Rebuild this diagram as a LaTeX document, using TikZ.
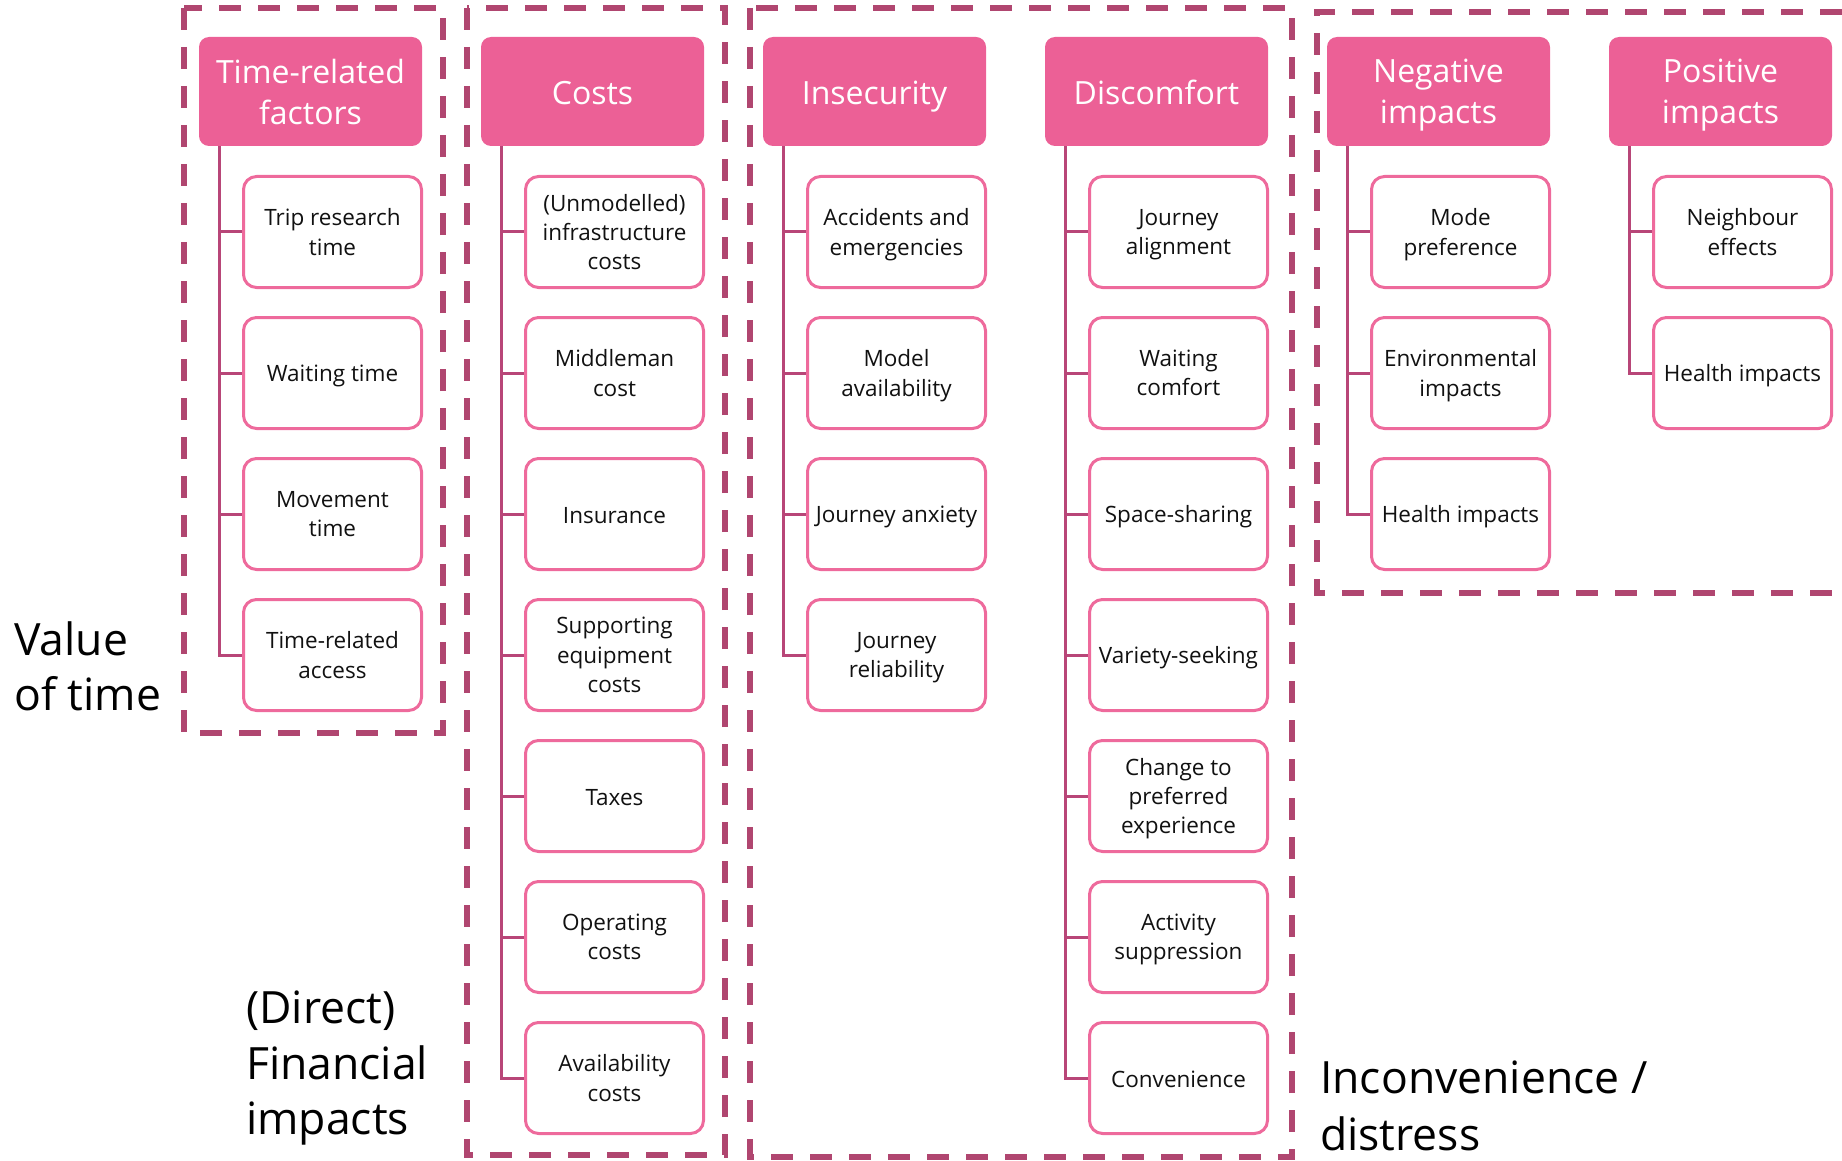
\documentclass[tikz,border=0pt]{standalone}
\usepackage{fontspec}
\setmainfont{Open Sans}
\definecolor{hdr}{RGB}{236,96,150}
\definecolor{chb}{RGB}{238,106,156}
\definecolor{conn}{RGB}{184,70,120}
\definecolor{dsh}{RGB}{176,70,112}
\definecolor{txt}{RGB}{17,17,17}
\newcommand\mycstrut{\rule[-4.9pt]{0pt}{28pt}}
\newcommand\myhstrut{\rule[-7.3pt]{0pt}{41pt}}
\tikzset{
  hdrbox/.style={fill=hdr, draw=none, rounded corners=10pt, text=white,
    font=\fontsize{32}{41}\selectfont, minimum width=223pt, minimum height=109pt,
    inner sep=0pt, align=center, execute at begin node=\myhstrut, execute at end node=\myhstrut},
  hdrtwo/.style={hdrbox, text depth=0pt},
  childbox/.style={draw=chb, line width=3pt, fill=white, rounded corners=13pt,
    text=txt, font=\fontsize{22.5}{29.4}\selectfont, minimum width=178pt,
    minimum height=111pt, inner sep=0pt, align=center,
    execute at begin node=\mycstrut, execute at end node=\mycstrut},
  ml/.style={text depth=-1.5pt},
  sl/.style={},
  connline/.style={draw=conn, line width=3pt},
  groupbox/.style={draw=dsh, line width=6pt, dash pattern=on 22pt off 17pt},
  biglabel/.style={font=\fontsize{44.5}{56}\selectfont, text=black, inner sep=0pt, anchor=base west}
}
\begin{document}
\begin{tikzpicture}[x=1pt,y=-1pt]
\useasboundingbox (0,0) rectangle (1842,1161);
% group boxes
\draw[groupbox] (184,8) rectangle (443,733);
\draw[groupbox] (467,8) rectangle (725,1155);
\draw[groupbox] (750,8) rectangle (1292,1157);
\draw[groupbox] (1842,12) -- (1317,12) -- (1317,593) -- (1842,593);
% headers
\node[hdrtwo] (h0) at (310.5,91.5) {Time-related\\factors};
\node[hdrbox] (h1) at (592.5,91.5) {Costs};
\node[hdrbox] (h2) at (874.5,91.5) {Insecurity};
\node[hdrbox] (h3) at (1156.5,91.5) {Discomfort};
\node[hdrtwo] (h4) at (1438.5,91.5) {Negative\\impacts};
\node[hdrtwo] (h5) at (1720.5,91.5) {Positive\\impacts};
% children
\foreach \t/\s [count=\k] in {{Trip research\\time}/ml,{Waiting time}/sl,{Movement\\time}/ml,{Time-related\\access}/ml}{
  \node[childbox,\s] (c0-\k) at (332.5,{232+141*(\k-1)}) {\t};
  \draw[connline] ([xshift=21pt]h0.south west) |- (c0-\k.west);
}
\foreach \t/\s [count=\k] in {{(Unmodelled)\\infrastructure\\costs}/ml,{Middleman\\cost}/ml,{Insurance}/sl,{Supporting\\equipment\\costs}/ml,{Taxes}/sl,{Operating\\costs}/ml,{Availability\\costs}/ml}{
  \node[childbox,\s] (c1-\k) at (614.5,{232+141*(\k-1)}) {\t};
  \draw[connline] ([xshift=21pt]h1.south west) |- (c1-\k.west);
}
\foreach \t/\s [count=\k] in {{Accidents and\\emergencies}/ml,{Model\\availability}/ml,{Journey anxiety}/sl,{Journey\\reliability}/ml}{
  \node[childbox,\s] (c2-\k) at (896.5,{232+141*(\k-1)}) {\t};
  \draw[connline] ([xshift=21pt]h2.south west) |- (c2-\k.west);
}
\foreach \t/\s [count=\k] in {{Journey\\alignment}/ml,{Waiting\\comfort}/ml,{Space-sharing}/sl,{Variety-seeking}/sl,{Change to\\preferred\\experience}/ml,{Activity\\suppression}/ml,{Convenience}/sl}{
  \node[childbox,\s] (c3-\k) at (1178.5,{232+141*(\k-1)}) {\t};
  \draw[connline] ([xshift=21pt]h3.south west) |- (c3-\k.west);
}
\foreach \t/\s [count=\k] in {{Mode\\preference}/ml,{Environmental\\impacts}/ml,{Health impacts}/sl}{
  \node[childbox,\s] (c4-\k) at (1460.5,{232+141*(\k-1)}) {\t};
  \draw[connline] ([xshift=21pt]h4.south west) |- (c4-\k.west);
}
\foreach \t/\s [count=\k] in {{Neighbour\\effects}/ml,{Health impacts}/sl}{
  \node[childbox,\s] (c5-\k) at (1742.5,{232+141*(\k-1)}) {\t};
  \draw[connline] ([xshift=21pt]h5.south west) |- (c5-\k.west);
}
% big labels
\node[biglabel] (v1) at (14,655) {Value};
\node[biglabel] (v2) at (14,710) {of time};
\node[biglabel] (f1) at (246,1023) {(Direct)};
\node[biglabel] (f2) at (246,1079) {Financial};
\node[biglabel] (f3) at (246,1134) {impacts};
\node[biglabel] (i1) at (1320,1093) {Inconvenience /};
\node[biglabel] (i2) at (1320,1150) {distress};
\end{tikzpicture}
\end{document}
